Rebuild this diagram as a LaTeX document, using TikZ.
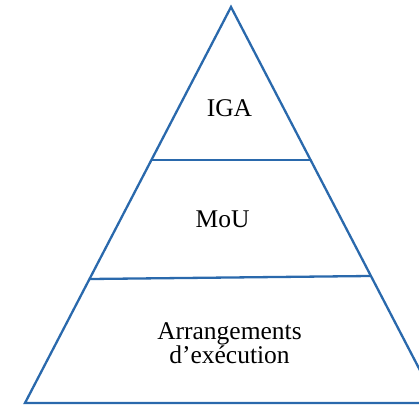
\documentclass[tikz,border=0pt]{standalone}
\usepackage{fontspec}
\setmainfont{Liberation Serif}
\usetikzlibrary{calc}

\begin{document}
\begin{tikzpicture}[x=1pt, y=1pt,
    edge/.style={draw=pyrblue, line width=2.3pt, line join=miter},
    level/.style={font=\fontsize{25.5}{24.5}\selectfont, align=center, inner sep=0pt}]
    \definecolor{pyrblue}{HTML}{2A69AC}
    \useasboundingbox (0,0) rectangle (419,407);
    \clip (0,0) rectangle (419,407);
    \coordinate (top) at (231,400);
    \coordinate (bl) at (25,4);
    \coordinate (br) at (437,4);
    \coordinate (l1) at (152,247);
    \coordinate (r1) at (310,247);
    \coordinate (l2) at (90,128);
    \coordinate (r2) at (370,131);
    \draw[edge] (bl) -- (top) -- (br) -- cycle;
    \draw[edge] (l1) -- (r1);
    \draw[edge] (l2) -- (r2);
    \node[level, anchor=base] (iga) at (229.5,290) {IGA};
    \node[level, anchor=base] (mou) at (222.5,180) {MoU};
    \node[level, anchor=center] (arr) at (229.5,64) {Arrangements\\d’exécution};
\end{tikzpicture}
\end{document}
